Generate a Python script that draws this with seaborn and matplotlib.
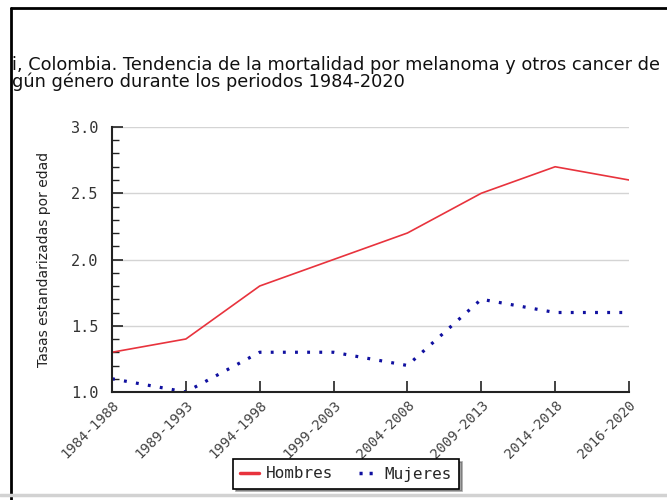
import matplotlib
matplotlib.use("Agg")
import matplotlib.pyplot as plt
from matplotlib.lines import Line2D
from matplotlib.ticker import MultipleLocator
import seaborn as sns
import pandas as pd

periodos = ["1984-1988", "1989-1993", "1994-1998", "1999-2003",
            "2004-2008", "2009-2013", "2014-2018", "2016-2020"]
hombres = [1.3, 1.4, 1.8, 2.0, 2.2, 2.5, 2.7, 2.6]
mujeres = [1.1, 1.0, 1.3, 1.3, 1.2, 1.7, 1.6, 1.6]
titulo_1 = "i, Colombia. Tendencia de la mortalidad por melanoma y otros cancer de"
titulo_2 = "gún género durante los periodos 1984-2020"
ylabel = "Tasas estandarizadas por edad"
yticks = [1.0, 1.5, 2.0, 2.5, 3.0]

sns.set_theme(style="white")
plt.rcParams['font.family'] = ['DejaVu Sans']

df = pd.DataFrame({
    "pos": list(range(len(periodos))) * 2,
    "tasa": hombres + mujeres,
    "sexo": ["Hombres"] * len(periodos) + ["Mujeres"] * len(periodos),
})

W, H = 667, 500
fig = plt.figure(figsize=(W / 100, H / 100), dpi=100)
fig.patch.set_facecolor("white")
ax = fig.add_axes([112 / W, 1 - 392 / H, (629 - 112) / W, (392 - 127) / H])

sns.lineplot(data=df[df.sexo == "Hombres"], x="pos", y="tasa", ax=ax,
             color="#e8333d", linewidth=1.2, label="Hombres")
sns.lineplot(data=df[df.sexo == "Mujeres"], x="pos", y="tasa", ax=ax,
             color="#1010a0", linewidth=2.3, linestyle=(0, (0.9, 2.9)),
             label="Mujeres")

ax.set_xlim(0, len(periodos) - 1)
ax.set_ylim(1.0, 3.0)
ax.set_yticks(yticks)
ax.set_yticklabels([f"{v:.1f}" for v in yticks], family="DejaVu Sans Mono",
                   fontsize=11, color="#333333")
ax.yaxis.set_minor_locator(MultipleLocator(0.1))
ax.set_xticks(range(len(periodos)))
ax.set_xticklabels(periodos, rotation=45, ha="right", va="top",
                   rotation_mode="anchor", family="DejaVu Sans Mono", fontsize=10,
                   color="#444444")
ax.tick_params(axis="y", which="major", direction="in", length=8, width=1.2,
               color="#222222", left=True, pad=10)
ax.tick_params(axis="y", which="minor", direction="in", length=5, width=1,
               color="#222222", left=True)
ax.tick_params(axis="x", which="major", direction="in", length=8, width=1.2,
               color="#222222", bottom=True, pad=4)
ax.grid(axis="y", color="#d4d4d4", linewidth=1)
ax.set_axisbelow(True)
for s in ["top", "right"]:
    ax.spines[s].set_visible(False)
for s in ["left", "bottom"]:
    ax.spines[s].set_color("#222222")
    ax.spines[s].set_linewidth(1.5)
ax.set_xlabel("")
ax.set_ylabel(ylabel, fontsize=10, labelpad=14, color="#222222")
ax.get_legend().remove()

handles = [Line2D([], [], color="#e8333d", linewidth=2.5),
           Line2D([], [], color="#1010a0", linewidth=2.5, linestyle=(0, (0.9, 2.0)))]
leg = fig.legend(handles, ["Hombres", "Mujeres"], loc="center",
                 bbox_to_anchor=(346 / W, 1 - 474 / H), ncol=2, fancybox=False,
                 shadow=True, edgecolor="black", framealpha=1,
                 prop={"family": "DejaVu Sans Mono", "size": 11.5},
                 handlelength=1.2, handletextpad=0.4, columnspacing=1.6,
                 borderpad=0.45)
leg.get_frame().set_linewidth(1.2)

fig.text(12 / W, 1 - 65 / H, titulo_1, fontsize=12.8, ha="left", va="center",
         color="#111111")
fig.text(12 / W, 1 - 82 / H, titulo_2, fontsize=12.8, ha="left", va="center",
         color="#111111")

fig.add_artist(Line2D([11 / W, 11 / W], [0, 1 - 8 / H], color="black", linewidth=2))
fig.add_artist(Line2D([11 / W, 1], [1 - 8 / H, 1 - 8 / H], color="black", linewidth=2))
fig.add_artist(Line2D([0, 1], [1 - 495 / H, 1 - 495 / H], color="#d2d2d2", linewidth=2.5))

fig.savefig("out.png", dpi=100, facecolor="white")
